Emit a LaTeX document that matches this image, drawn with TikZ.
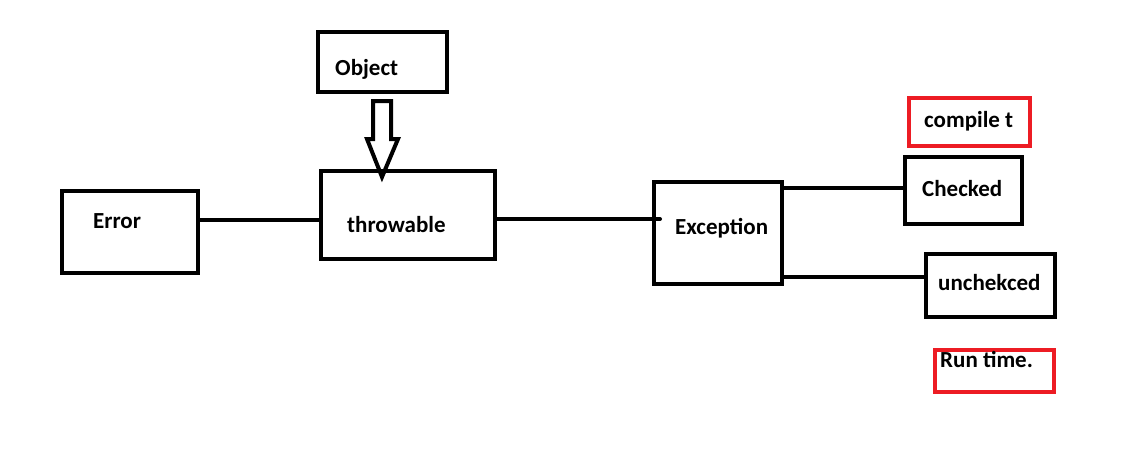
\documentclass[tikz,border=0pt]{standalone}
\usepackage{fontspec}
\setmainfont{Carlito}
\definecolor{pred}{HTML}{ED1C24}
\begin{document}
\begin{tikzpicture}[x=1pt,y=-1pt,
  box/.style={draw=black,line width=4pt,minimum width=#1,inner sep=0pt},
  rbox/.style={draw=pred,line width=4pt,inner sep=0pt},
  lbl/.style={anchor=base west,inner sep=0pt,font=\fontsize{23}{27}\selectfont\bfseries},
  link/.style={line width=4pt}]
\useasboundingbox (0,0) rectangle (1133,460);
\fill[white] (0,0) rectangle (1133,460);
% boxes
\node[box=129pt,minimum height=60pt] (object) at (382.5,62) {};
\node[box=174pt,minimum height=88pt] (throwable) at (408,215) {};
\node[box=136pt,minimum height=82pt] (error) at (130,232) {};
\node[box=128pt,minimum height=102pt] (exception) at (718,233) {};
\node[box=117pt,minimum height=67pt] (checked) at (963.5,190.5) {};
\node[box=129pt,minimum height=63pt] (unchecked) at (990.5,285.5) {};
\node[rbox,minimum width=121pt,minimum height=48pt] (compile) at (969.5,122) {};
\node[rbox,minimum width=119pt,minimum height=42pt] (runtime) at (994.5,371) {};
% texts
\node[lbl] (tobject) at (335,75) {Object};
\node[lbl] (tthrow) at (347,232) {throwable};
\node[lbl] (terror) at (93,228) {Error};
\node[lbl] (texc) at (675,234) {Exception};
\node[lbl] (tchk) at (922,196) {Checked};
\node[lbl] (tunchk) at (938,290) {unchekced};
\node[lbl] (tcomp) at (924,127) {compile t};
\node[lbl] (trun) at (940,367) {Run time.};
% connectors
\draw[link] (error.east |- 0,220) -- (throwable.west |- 0,220);
\coordinate (excend) at (660,219);
\draw[link,line cap=round] (throwable.east |- 0,219) -- (excend);
\draw[link] (exception.east |- 0,188) -- (checked.west |- 0,188);
\draw[link] (exception.east |- 0,277) -- (unchecked.west |- 0,277);
% hollow arrow
\draw[line width=4pt,line join=miter] (373,101) -- (391,101) -- (391,139) -- (398,139) -- (382,177) -- (367,139) -- (373,139) -- cycle;
\end{tikzpicture}
\end{document}
